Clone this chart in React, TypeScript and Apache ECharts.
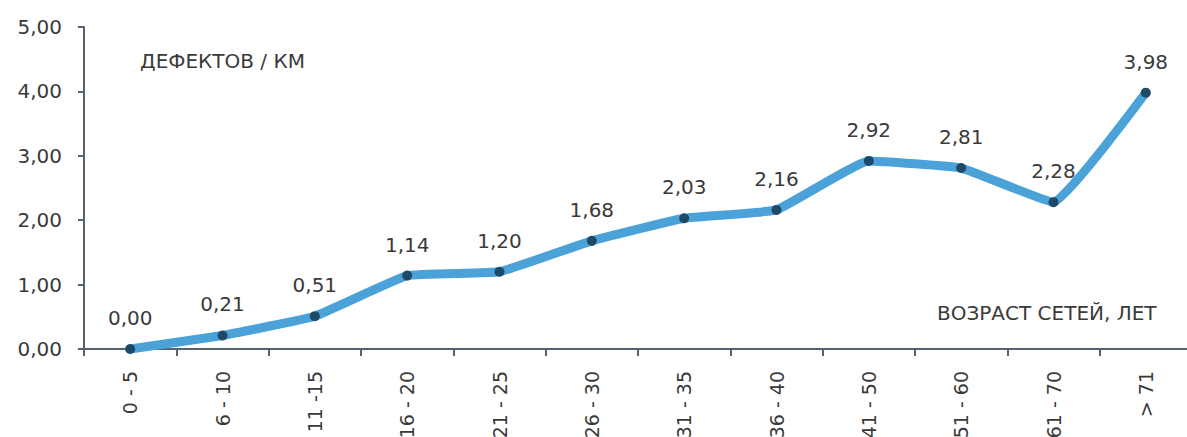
import React, { useEffect, useRef } from "react";
import * as echarts from "echarts";

const categories = ["0 - 5", "6 - 10", "11 -15", "16 - 20", "21 - 25", "26 - 30", "31 - 35", "36 - 40", "41 - 50", "51 - 60", "61 - 70", "> 71"];
const defectsPerKm = [0.0, 0.21, 0.51, 1.14, 1.2, 1.68, 2.03, 2.16, 2.92, 2.81, 2.28, 3.98];
const yTicks = { min: 0, max: 5, interval: 1 };
const yAxisTitle = "ДЕФЕКТОВ / КМ";
const xAxisTitle = "ВОЗРАСТ СЕТЕЙ, ЛЕТ";

const fmt = (v: number) => v.toFixed(2).replace(".", ",");
const FONT = "DejaVu Sans";
const TEXT = "#3a3a3a";
const AXIS = "#56626e";

export default function App() {
  const ref = useRef<HTMLDivElement>(null);
  useEffect(() => {
    if (!ref.current) return;
    document.body.style.margin = "0";
    document.documentElement.style.overflow = "hidden";
    document.body.style.overflow = "hidden";
    const chart = echarts.init(ref.current, undefined, { renderer: "svg" });
    chart.setOption({
      animation: false,
      backgroundColor: "#ffffff",
      textStyle: { fontFamily: FONT },
      grid: { left: 84, top: 27, width: 1108, height: 322, containLabel: false, outerBoundsMode: "none" },
      xAxis: {
        type: "category",
        data: categories,
        boundaryGap: true,
        axisLine: { lineStyle: { color: AXIS, width: 2 } },
        axisTick: { show: true, length: 7, lineStyle: { color: AXIS, width: 2 } },
        axisLabel: { rotate: 90, color: TEXT, fontSize: 19, fontFamily: FONT, margin: 22, interval: 0 },
      },
      yAxis: {
        type: "value",
        min: yTicks.min,
        max: yTicks.max,
        interval: yTicks.interval,
        axisLine: { show: true, lineStyle: { color: AXIS, width: 2 } },
        axisTick: { show: true, length: 6, lineStyle: { color: AXIS, width: 2 } },
        splitLine: { show: false },
        axisLabel: { color: TEXT, fontSize: 20, fontFamily: FONT, margin: 22, formatter: (v: number) => fmt(v) },
      },
      graphic: [
        { type: "text", left: 140, top: 51, style: { text: yAxisTitle, fontSize: 20, fontFamily: FONT, fill: TEXT } },
        { type: "text", left: 937, top: 303, style: { text: xAxisTitle, fontSize: 20, fontFamily: FONT, fill: TEXT } },
      ],
      series: [
        {
          type: "line",
          data: defectsPerKm,
          smooth: 0.1,
          lineStyle: { color: "#4ba2d8", width: 9 },
          symbol: "circle",
          symbolSize: 10,
          itemStyle: { color: "#1d4a66" },
          label: { show: true, position: "top", distance: 16, fontSize: 20, color: TEXT, fontFamily: FONT, formatter: (p: any) => fmt(p.value) },
        },
      ],
    });
    return () => chart.dispose();
  }, []);
  return <div ref={ref} style={{ width: 1187, height: 437, overflow: "hidden" }} />;
}
